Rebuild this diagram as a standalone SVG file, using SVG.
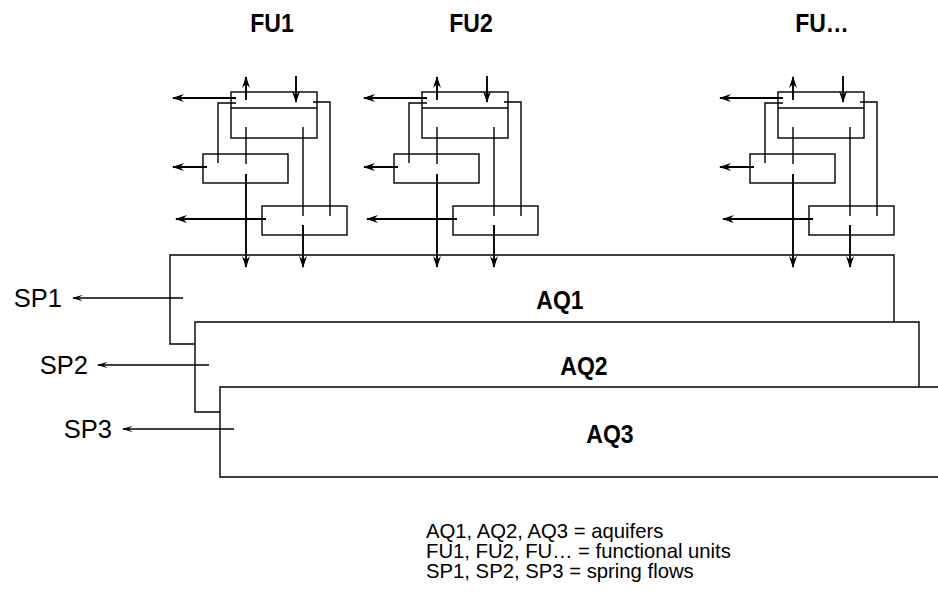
<svg xmlns="http://www.w3.org/2000/svg" width="938" height="596" viewBox="0 0 938 596">
<defs>
<style>
.box{fill:none;stroke:#000;stroke-width:1.4}
.ln{fill:none;stroke:#000;stroke-width:1.4}
.ar{fill:none;stroke:#000;stroke-width:1.9;marker-end:url(#ah)}
.sp{fill:none;stroke:#000;stroke-width:1.3;marker-end:url(#ahs)}
.lab{font-family:"Liberation Sans",Arial,sans-serif;font-size:23px;font-weight:bold;fill:#000;text-anchor:middle}
.spl{font-family:"Liberation Sans",Arial,sans-serif;font-size:25.5px;fill:#000;text-anchor:end}
.leg{font-family:"Liberation Sans",Arial,sans-serif;font-size:20.3px;fill:#000}
</style>
<marker id="ah" viewBox="0 0 12 8" refX="11" refY="4" markerWidth="12" markerHeight="8" orient="auto" markerUnits="userSpaceOnUse">
<path d="M12,4 L0,0 L4,4 L0,8 Z" fill="#000"/>
</marker>
<marker id="ahs" viewBox="0 0 11 7" refX="10" refY="3.5" markerWidth="11" markerHeight="7" orient="auto" markerUnits="userSpaceOnUse">
<path d="M11,3.5 L0,0.3 L5,3.5 L0,6.7 Z" fill="#000"/>
</marker>
</defs>
<rect width="938" height="596" fill="#fff"/>

<g id="labels-fu">
<text class="lab" transform="translate(272,32) scale(1,1.15)">FU1</text>
<text class="lab" transform="translate(471,32) scale(1,1.15)">FU2</text>
<text class="lab" transform="translate(822,32) scale(1,1.15)">FU…</text>
</g>

<g id="AQ1"><path class="box" d="M894,322 V255 H170 V344 H195"/><text class="lab" transform="translate(560,309) scale(1,1.15)">AQ1</text></g>
<g id="AQ2"><path class="box" d="M919,387 V322 H195 V412 H220"/><text class="lab" transform="translate(584,375) scale(1,1.15)">AQ2</text></g>
<g id="AQ3"><path class="box" d="M938,387 H220 V477 H938"/><text class="lab" transform="translate(610,443) scale(1,1.15)">AQ3</text></g>

<g id="FU1">
<rect class="box" x="231" y="92" width="86" height="46"/><line class="ln" x1="231" y1="108" x2="317" y2="108"/>
<rect class="box" x="203" y="154" width="85" height="29"/>
<rect class="box" x="262" y="206" width="85" height="29"/>
</g>
<g id="FU2" transform="translate(191,0)">
<rect class="box" x="231" y="92" width="86" height="46"/><line class="ln" x1="231" y1="108" x2="317" y2="108"/>
<rect class="box" x="203" y="154" width="85" height="29"/>
<rect class="box" x="262" y="206" width="85" height="29"/>
</g>
<g id="FU3" transform="translate(547,0)">
<rect class="box" x="231" y="92" width="86" height="46"/><line class="ln" x1="231" y1="108" x2="317" y2="108"/>
<rect class="box" x="203" y="154" width="85" height="29"/>
<rect class="box" x="262" y="206" width="85" height="29"/>
</g>

<g id="connectors">
<g id="c-fu1">
<line class="ar" x1="246" y1="100" x2="246" y2="77"/>
<line class="ar" x1="296" y1="76" x2="296" y2="102"/>
<line class="ar" x1="236" y1="98" x2="173" y2="98"/>
<path class="ln" d="M236,103 H218 V163"/>
<path class="ln" d="M313,102 H330 V216"/>
<line class="ln" x1="246" y1="127" x2="246" y2="164"/>
<line class="ln" x1="303" y1="127" x2="303" y2="216"/>
<line class="ar" x1="246" y1="174" x2="246" y2="267"/>
<line class="ar" x1="303" y1="225" x2="303" y2="267"/>
<line class="ar" x1="207" y1="167" x2="173" y2="167"/>
<line class="ar" x1="266" y1="219" x2="176" y2="219"/>
</g>
<g id="c-fu2" transform="translate(191,0)">
<line class="ar" x1="246" y1="100" x2="246" y2="77"/>
<line class="ar" x1="296" y1="76" x2="296" y2="102"/>
<line class="ar" x1="236" y1="98" x2="173" y2="98"/>
<path class="ln" d="M236,103 H218 V163"/>
<path class="ln" d="M313,102 H330 V216"/>
<line class="ln" x1="246" y1="127" x2="246" y2="164"/>
<line class="ln" x1="303" y1="127" x2="303" y2="216"/>
<line class="ar" x1="246" y1="174" x2="246" y2="267"/>
<line class="ar" x1="303" y1="225" x2="303" y2="267"/>
<line class="ar" x1="207" y1="167" x2="173" y2="167"/>
<line class="ar" x1="266" y1="219" x2="176" y2="219"/>
</g>
<g id="c-fu3" transform="translate(547,0)">
<line class="ar" x1="246" y1="100" x2="246" y2="77"/>
<line class="ar" x1="296" y1="76" x2="296" y2="102"/>
<line class="ar" x1="236" y1="98" x2="173" y2="98"/>
<path class="ln" d="M236,103 H218 V163"/>
<path class="ln" d="M313,102 H330 V216"/>
<line class="ln" x1="246" y1="127" x2="246" y2="164"/>
<line class="ln" x1="303" y1="127" x2="303" y2="216"/>
<line class="ar" x1="246" y1="174" x2="246" y2="267"/>
<line class="ar" x1="303" y1="225" x2="303" y2="267"/>
<line class="ar" x1="207" y1="167" x2="173" y2="167"/>
<line class="ar" x1="266" y1="219" x2="176" y2="219"/>
</g>
<line class="sp" x1="183" y1="298" x2="73" y2="298"/>
<line class="sp" x1="209" y1="365" x2="98" y2="365"/>
<line class="sp" x1="234" y1="429" x2="123" y2="429"/>
</g>

<g id="sp-labels">
<text class="spl" x="62" y="307">SP1</text>
<text class="spl" x="88" y="374">SP2</text>
<text class="spl" x="112" y="438">SP3</text>
</g>

<g id="legend">
<text class="leg" x="426" y="538">AQ1, AQ2, AQ3 = aquifers</text>
<text class="leg" x="426" y="558">FU1, FU2, FU… = functional units</text>
<text class="leg" x="426" y="578">SP1, SP2, SP3 = spring flows</text>
</g>
</svg>
